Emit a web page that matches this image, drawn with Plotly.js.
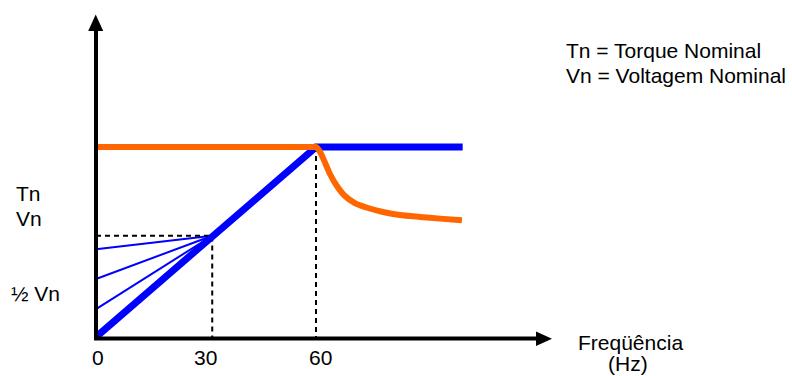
<!DOCTYPE html>
<html>
<head>
<meta charset="utf-8">
<script src="https://cdn.plot.ly/plotly-3.0.1.min.js"></script>
<style>html,body{margin:0;padding:0;background:#fff;}#chart{width:792px;height:376px;}</style>
</head>
<body>
<div id="chart"></div>
<script>
// ---- data (frequency in Hz, level as fraction of nominal) ----
const tickValues = [0, 30, 60];
const tickLabels = ['0', '30', '60'];
const voltageHz = [0, 60, 100];
const voltageLevel = [0, 1, 1];
const torqueHz = [0, 59, 60, 61.1, 62.5, 63.8, 65.7, 67.9, 70.6, 74.2, 78.3, 82.9, 88.4, 93.8, 99.8];
const torqueLevel = [1, 1, 1, 0.974, 0.916, 0.858, 0.795, 0.742, 0.705, 0.679, 0.658, 0.642, 0.632, 0.623, 0.614];
const kneeHz = 31.7;
const kneeLevel = 0.533;
const boostStartLevels = [0.462, 0.305, 0.147];
const yLabels = ['Tn', 'Vn', '½ Vn'];
const xTitleLines = ['Freqüência', '(Hz)'];
const noteLines = ['Tn = Torque Nominal', 'Vn = Voltagem Nominal'];

// ---- layout geometry ----
const W = 792, H = 376;
const x0px = 96, pxPerHz = 220 / 60;
const y0px = 337, pxPerUnit = 190;
const xRange = [-x0px / pxPerHz, (W - x0px) / pxPerHz];
const yRange = [-(H - y0px) / pxPerUnit, y0px / pxPerUnit];
const hz = px => (px - x0px) / pxPerHz;
const lv = py => (y0px - py) / pxPerUnit;

const FONT = {family: 'Liberation Sans, Arial, sans-serif', size: 21, color: '#000'};
const BLUE = '#0000FF', ORANGE = '#FF6600';
const dashStyle = '5px,4px';

const traces = [];
// thin boost lines
boostStartLevels.forEach(v => {
  traces.push({x: [0, kneeHz], y: [v, kneeLevel], mode: 'lines',
    line: {color: BLUE, width: 2}, hoverinfo: 'skip'});
});
// dashed guides
traces.push({x: [0, kneeHz, kneeHz], y: [kneeLevel, kneeLevel, 0], mode: 'lines',
  line: {color: '#000', width: 2, dash: dashStyle}, hoverinfo: 'skip'});
traces.push({x: [60, 60], y: [1, 0], mode: 'lines',
  line: {color: '#000', width: 2, dash: dashStyle}, hoverinfo: 'skip'});
// voltage (thick blue)
traces.push({x: voltageHz, y: voltageLevel, mode: 'lines',
  line: {color: BLUE, width: 7}, hoverinfo: 'skip'});
// torque (orange)
traces.push({x: torqueHz, y: torqueLevel, mode: 'lines',
  line: {color: ORANGE, width: 6, shape: 'spline', smoothing: 0.7}, hoverinfo: 'skip'});

const shapes = [
  // y axis + arrow
  {type: 'line', xref: 'x', yref: 'y', x0: 0, x1: 0, y0: lv(340), y1: lv(29), line: {color: '#000', width: 4}},
  {type: 'path', xref: 'x', yref: 'y',
    path: `M ${hz(88.2)} ${lv(31)} L ${hz(95.7)} ${lv(14.5)} L ${hz(103.2)} ${lv(31)} Z`,
    fillcolor: '#000', line: {width: 0}},
  // x axis + arrow
  {type: 'line', xref: 'x', yref: 'y', x0: hz(94), x1: hz(538), y0: lv(338.5), y1: lv(338.5), line: {color: '#000', width: 4}},
  {type: 'path', xref: 'x', yref: 'y',
    path: `M ${hz(536)} ${lv(331.5)} L ${hz(552)} ${lv(338.8)} L ${hz(536)} ${lv(346)} Z`,
    fillcolor: '#000', line: {width: 0}}
];

const ann = [];
const txt = (text, px, py, xanchor) => ann.push({
  text: text, xref: 'paper', yref: 'paper', x: px / W, y: 1 - py / H,
  xanchor: xanchor || 'center', yanchor: 'middle', showarrow: false, font: FONT
});
// tick labels
tickValues.forEach((v, i) => ann.push({
  text: tickLabels[i], xref: 'x', yref: 'paper', x: v, y: 1 - 357.5 / H,
  xanchor: 'center', yanchor: 'middle', showarrow: false, font: FONT,
  xshift: i === 0 ? 2 : (i === 2 ? 4 : -1)
}));
txt(yLabels[0], 28, 193);
txt(yLabels[1], 29, 218);
txt(yLabels[2], 35, 293);
txt(xTitleLines[0], 630, 342);
txt(xTitleLines[1], 628, 363);
txt(noteLines[0], 564, 51, 'left');
txt(noteLines[1], 564, 75, 'left');

const layout = {
  width: W, height: H,
  margin: {l: 0, r: 0, t: 0, b: 0, pad: 0},
  paper_bgcolor: '#fff', plot_bgcolor: '#fff',
  showlegend: false,
  xaxis: {range: xRange, visible: false, fixedrange: true},
  yaxis: {range: yRange, visible: false, fixedrange: true},
  shapes: shapes,
  annotations: ann,
  font: FONT
};

Plotly.newPlot('chart', traces, layout, {staticPlot: true, displayModeBar: false});
</script>
</body>
</html>
